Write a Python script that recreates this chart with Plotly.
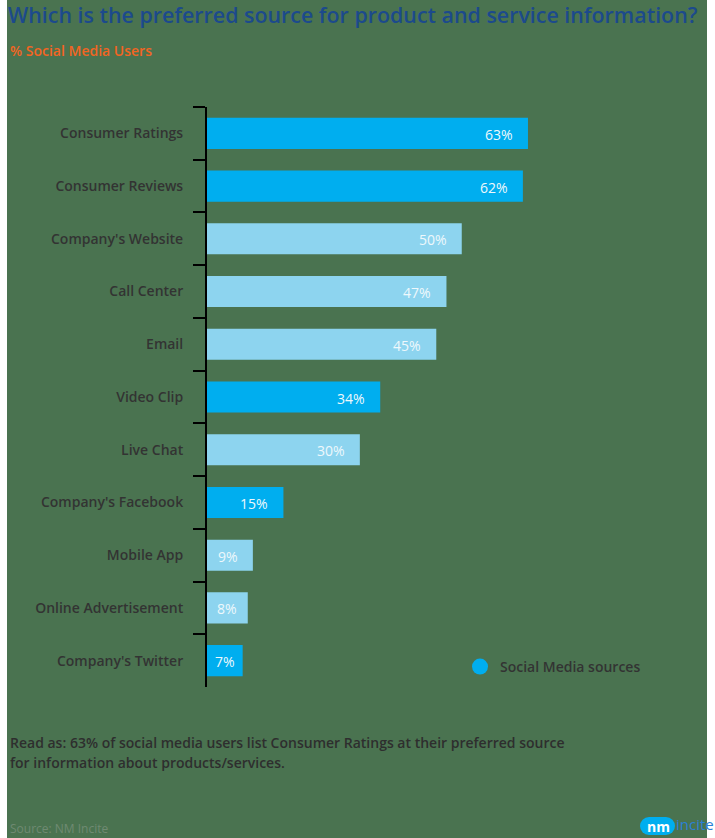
import plotly.graph_objects as go

categories = ["Consumer Ratings", "Consumer Reviews", "Company's Website", "Call Center",
              "Email", "Video Clip", "Live Chat", "Company's Facebook", "Mobile App",
              "Online Advertisement", "Company's Twitter"]
values = [63, 62, 50, 47, 45, 34, 30, 15, 9, 8, 7]
social_media = [True, True, False, False, False, True, False, True, False, False, True]

DARK = "#00aeef"
LIGHT = "#8dd4ef"
BG = "#4a7350"
colors = [DARK if s else LIGHT for s in social_media]

W, H = 715, 838
ML, MR, MT, MB = 207, 15, 107, 151
PW = W - ML - MR
PH = H - MT - MB
PX_PER_PCT = 5.095
XMAX = PW / PX_PER_PCT


def px_x(px):
    return (px - ML) / PW


def px_y(py):
    return (H - MB - py) / PH


fig = go.Figure()
fig.add_trace(go.Bar(
    y=categories, x=values, orientation="h",
    marker=dict(color=colors, line=dict(width=0)),
    showlegend=False, hoverinfo="skip",
))
fig.add_trace(go.Scatter(
    x=[None], y=[None], mode="markers", name="Social Media sources",
    marker=dict(color=DARK, size=16, symbol="circle"),
    showlegend=True,
))

annotations = []
for c, v in zip(categories, values):
    bar_px = v * PX_PER_PCT
    if bar_px < 45:
        pos = dict(x=v / 2, xanchor="center", xshift=0)
    else:
        pos = dict(x=v, xanchor="right", xshift=-13)
    annotations.append(dict(
        y=c, xref="x", yref="y", text=f"{v}%", showarrow=False, yshift=-1,
        font=dict(family="Open Sans", size=14, color="#eef8fc"), **pos,
    ))

FOOT = dict(family="Open Sans", size=14, color="#2e2e2e", weight=600)
annotations += [
    dict(x=px_x(8), y=px_y(742), xref="paper", yref="paper", xanchor="left", yanchor="middle",
         text="Read as: 63% of social media users list Consumer Ratings at their preferred source",
         showarrow=False, font=FOOT),
    dict(x=px_x(8), y=px_y(762), xref="paper", yref="paper", xanchor="left", yanchor="middle",
         text="for information about products/services.",
         showarrow=False, font=FOOT),
    dict(x=px_x(8), y=px_y(828), xref="paper", yref="paper", xanchor="left", yanchor="middle",
         text="Source: NM Incite", showarrow=False,
         font=dict(family="Open Sans", size=12, color="#6f8a72")),
    dict(x=px_x(8), y=px_y(50), xref="paper", yref="paper", xanchor="left", yanchor="middle",
         text="% Social Media Users", showarrow=False,
         font=dict(family="Open Sans", size=14, color="#f26522", weight=600)),
    # logo
    dict(x=px_x(658), y=px_y(826), xref="paper", yref="paper", xanchor="center", yanchor="middle",
         text="<b>nm</b>", showarrow=False,
         font=dict(family="Open Sans", size=14, color="#ffffff")),
    dict(x=px_x(674), y=px_y(824), xref="paper", yref="paper", xanchor="left", yanchor="middle",
         text="incite", showarrow=False,
         font=dict(family="Open Sans", size=15, color="#2a80d6")),
]

shapes = [
    dict(type="rect", xref="paper", yref="paper", layer="below",
         x0=px_x(7), x1=px_x(707), y0=px_y(838), y1=px_y(0),
         fillcolor=BG, line=dict(width=0)),
    dict(type="circle", xref="paper", yref="paper", layer="below",
         x0=px_x(640), x1=px_x(658), y0=px_y(835), y1=px_y(817),
         fillcolor=DARK, line=dict(width=0)),
    dict(type="circle", xref="paper", yref="paper", layer="below",
         x0=px_x(657), x1=px_x(675), y0=px_y(835), y1=px_y(817),
         fillcolor=DARK, line=dict(width=0)),
    dict(type="rect", xref="paper", yref="paper", layer="below",
         x0=px_x(649), x1=px_x(666), y0=px_y(835), y1=px_y(817),
         fillcolor=DARK, line=dict(width=0)),
]

fig.update_layout(
    width=W, height=H,
    margin=dict(l=ML, r=MR, t=MT, b=MB),
    paper_bgcolor="#ffffff",
    plot_bgcolor="rgba(0,0,0,0)",
    bargap=0.41,
    title=dict(
        text="Which is the preferred source for product and service information?",
        x=8 / W, xanchor="left", xref="container",
        y=1 - 16 / H, yanchor="middle", yref="container",
        font=dict(family="Open Sans", size=21.4, color="#1c4a8c", weight=600),
    ),
    xaxis=dict(range=[0, XMAX], visible=False, showgrid=False, zeroline=False, fixedrange=True),
    yaxis=dict(
        type="category", autorange="reversed",
        showline=True, linecolor="#000000", linewidth=2,
        ticks="outside", tickson="boundaries", ticklen=12, tickwidth=2, tickcolor="#000000",
        ticklabelstandoff=19,
        tickfont=dict(family="Open Sans", size=14, color="#333333", weight=600),
        showgrid=False, zeroline=False,
    ),
    legend=dict(
        x=px_x(460), y=px_y(667), xanchor="left", yanchor="middle",
        bgcolor="rgba(0,0,0,0)", borderwidth=0,
        font=dict(family="Open Sans", size=14, color="#333333", weight=600),
    ),
    annotations=annotations,
    shapes=shapes,
)

fig.write_html("out.html")
